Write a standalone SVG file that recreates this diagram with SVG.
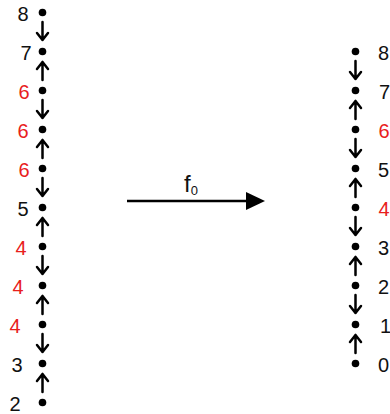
<svg xmlns="http://www.w3.org/2000/svg" width="390" height="414" viewBox="0 0 390 414">
<style>
.dot{fill:#000}
.lbl{font-family:"Liberation Sans",Arial,sans-serif;font-size:20px;fill:#111}
.lm{text-anchor:middle}
.red{fill:#e8201c}
.ar{fill:none;stroke:#000;stroke-width:2.5;stroke-linecap:round;stroke-linejoin:round}
</style>
<defs>
<path id="dn" d="M0,-9 V9 M-5.5,2 L0,9 L5.5,2"/>
<path id="up" d="M0,9 V-9 M-5.5,-2 L0,-9 L5.5,-2"/>
</defs>
<rect width="390" height="414" fill="#fff"/>
<g id="left-chain">
<g id="L8"><circle class="dot" cx="42.5" cy="12.5" r="3.8"/><text class="lbl lm" x="23" y="21">8</text></g>
<g id="L7"><circle class="dot" cx="42.5" cy="51.5" r="3.8"/><text class="lbl lm" x="26" y="60">7</text></g>
<g id="L6a"><circle class="dot" cx="42.5" cy="90.5" r="3.8"/><text class="lbl lm red" x="24" y="99">6</text></g>
<g id="L6b"><circle class="dot" cx="42.5" cy="129.5" r="3.8"/><text class="lbl lm red" x="23" y="138">6</text></g>
<g id="L6c"><circle class="dot" cx="42.5" cy="168.5" r="3.8"/><text class="lbl lm red" x="24" y="177">6</text></g>
<g id="L5"><circle class="dot" cx="42.5" cy="207.5" r="3.8"/><text class="lbl lm" x="23" y="216">5</text></g>
<g id="L4a"><circle class="dot" cx="42.5" cy="246.5" r="3.8"/><text class="lbl lm red" x="21" y="255">4</text></g>
<g id="L4b"><circle class="dot" cx="42.5" cy="285.5" r="3.8"/><text class="lbl lm red" x="18" y="294">4</text></g>
<g id="L4c"><circle class="dot" cx="42.5" cy="324.5" r="3.8"/><text class="lbl lm red" x="15" y="333">4</text></g>
<g id="L3"><circle class="dot" cx="42.5" cy="363.5" r="3.8"/><text class="lbl lm" x="17" y="372">3</text></g>
<g id="L2"><circle class="dot" cx="42.5" cy="402.5" r="3.8"/><text class="lbl lm" x="15" y="411">2</text></g>
</g>
<g id="right-chain">
<g id="R8"><circle class="dot" cx="355.5" cy="51.5" r="3.8"/><text class="lbl" x="378" y="60">8</text></g>
<g id="R7"><circle class="dot" cx="355.5" cy="90.5" r="3.8"/><text class="lbl" x="379" y="99">7</text></g>
<g id="R6"><circle class="dot" cx="355.5" cy="129.5" r="3.8"/><text class="lbl red" x="378.5" y="138">6</text></g>
<g id="R5"><circle class="dot" cx="355.5" cy="168.5" r="3.8"/><text class="lbl" x="378" y="177">5</text></g>
<g id="R4"><circle class="dot" cx="355.5" cy="207.5" r="3.8"/><text class="lbl red" x="378.5" y="216">4</text></g>
<g id="R3"><circle class="dot" cx="355.5" cy="246.5" r="3.8"/><text class="lbl" x="378" y="255">3</text></g>
<g id="R2"><circle class="dot" cx="355.5" cy="285.5" r="3.8"/><text class="lbl" x="378" y="294">2</text></g>
<g id="R1"><circle class="dot" cx="355.5" cy="324.5" r="3.8"/><text class="lbl" x="380" y="333">1</text></g>
<g id="R0"><circle class="dot" cx="355.5" cy="363.5" r="3.8"/><text class="lbl" x="378" y="372">0</text></g>
</g>
<g id="connectors">
<g class="ar">
<use href="#dn" x="42.5" y="31"/>
<use href="#up" x="42.5" y="71"/>
<use href="#dn" x="42.5" y="109"/>
<use href="#up" x="42.5" y="149"/>
<use href="#dn" x="42.5" y="187"/>
<use href="#up" x="42.5" y="227"/>
<use href="#dn" x="42.5" y="265"/>
<use href="#up" x="42.5" y="305"/>
<use href="#dn" x="42.5" y="343"/>
<use href="#up" x="42.5" y="383"/>
<use href="#dn" x="355.5" y="70"/>
<use href="#up" x="355.5" y="110"/>
<use href="#dn" x="355.5" y="148"/>
<use href="#up" x="355.5" y="188"/>
<use href="#dn" x="355.5" y="226"/>
<use href="#up" x="355.5" y="266"/>
<use href="#dn" x="355.5" y="304"/>
<use href="#up" x="355.5" y="344"/>
</g>
<g id="f0-map">
<line x1="127" y1="201" x2="248" y2="201" stroke="#000" stroke-width="2.5"/>
<polygon points="246,192 265,201 246,210" fill="#000"/>
<text class="lbl" style="font-size:24px" x="184" y="192">f<tspan style="font-size:13px" dy="3">0</tspan></text>
</g>
</g>
</svg>
